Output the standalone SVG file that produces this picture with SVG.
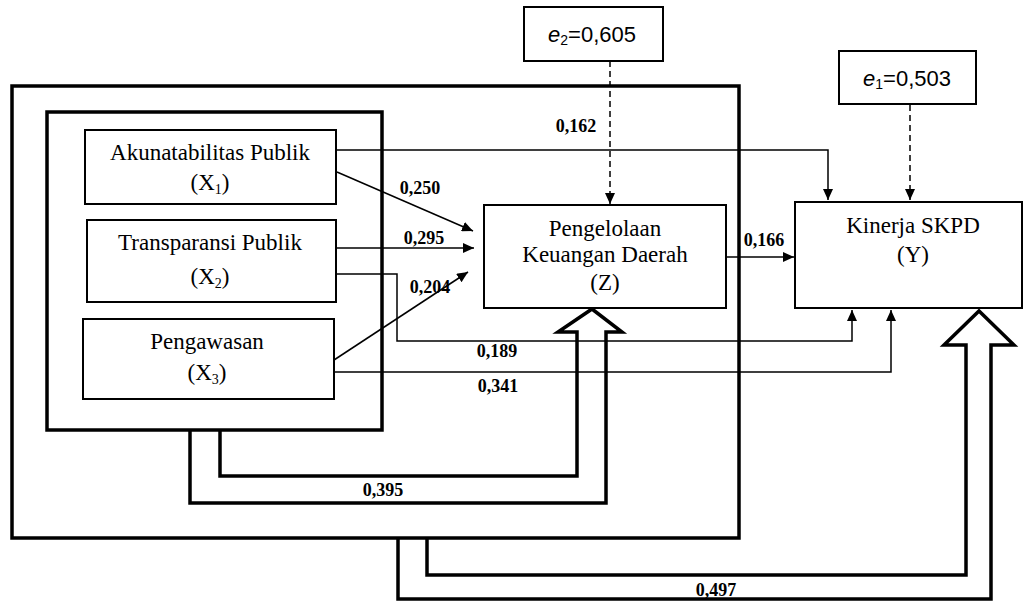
<svg xmlns="http://www.w3.org/2000/svg" width="1024" height="602" viewBox="0 0 1024 602">
<defs>
<marker id="ah" markerWidth="11" markerHeight="10" refX="11" refY="5" orient="auto" markerUnits="userSpaceOnUse">
<path d="M0,0 L11,5 L0,10 z" fill="#000"/>
</marker>
</defs>
<style>
.bx{fill:#fff;stroke:#000;stroke-width:2}
.frame{fill:none;stroke:#000;stroke-width:3.5}
.ln{fill:none;stroke:#000;stroke-width:1.5}
.dash{fill:none;stroke:#000;stroke-width:1.5;stroke-dasharray:6,4}
.big{fill:none;stroke:#000;stroke-width:3.5;stroke-linejoin:miter}
.t{font-family:"Liberation Serif","Times New Roman",serif;font-size:23px;fill:#000;text-anchor:middle}
.sub{font-size:14px}
.n{font-family:"Liberation Serif","Times New Roman",serif;font-size:18px;font-weight:bold;fill:#000;text-anchor:middle}
.e{font-family:"Liberation Sans",Arial,sans-serif;font-size:22px;fill:#000;text-anchor:middle}
</style>
<rect width="1024" height="602" fill="#fff"/>

<g id="outer-frame"><rect x="12" y="86" width="727" height="452" class="frame"/></g>
<g id="inner-frame"><rect x="47" y="112" width="335" height="318" class="frame"/></g>

<g id="connectors">
<!-- X1 to Y -->
<path class="ln" d="M336,150 H828 V200" marker-end="url(#ah)"/>
<!-- X1 to Z -->
<path class="ln" d="M337,172 L473,231" marker-end="url(#ah)"/>
<!-- X2 to Z -->
<path class="ln" d="M336,248 H474" marker-end="url(#ah)"/>
<!-- X3 to Z -->
<path class="ln" d="M334,360 L468,272" marker-end="url(#ah)"/>
<!-- X2 to Y -->
<path class="ln" d="M336,274 H397 V341 H852 V310" marker-end="url(#ah)"/>
<!-- X3 to Y -->
<path class="ln" d="M334,372 H891 V310" marker-end="url(#ah)"/>
<!-- Z to Y -->
<path class="ln" d="M726,257 H794" marker-end="url(#ah)"/>
<!-- e2 to Z -->
<path class="dash" d="M610,61 V204" marker-end="url(#ah)"/>
<!-- e1 to Y -->
<path class="dash" d="M910,105 V200" marker-end="url(#ah)"/>
<!-- big arrow X to Z -->
<path class="big" d="M190,430 V503 H606 V332 H622 L592,309 L558,332 H577 V476 H220 V430"/>
<!-- big arrow X to Y -->
<path class="big" d="M398,538 V599 H991 V345 H1014 L979,311 L944,345 H966 V575 H427 V538"/>
</g>

<g id="x1">
<rect x="85" y="130" width="251" height="74" class="bx"/>
<text class="t" x="210" y="160">Akunatabilitas Publik</text>
<text class="t" x="210" y="190">(X<tspan class="sub" dy="4">1</tspan><tspan dy="-4">)</tspan></text>
</g>
<g id="x2">
<rect x="87" y="220" width="249" height="82" class="bx"/>
<text class="t" x="210" y="250">Transparansi Publik</text>
<text class="t" x="210" y="284">(X<tspan class="sub" dy="4">2</tspan><tspan dy="-4">)</tspan></text>
</g>
<g id="x3">
<rect x="83" y="319" width="251" height="80" class="bx"/>
<text class="t" x="207" y="349">Pengawasan</text>
<text class="t" x="207" y="380">(X<tspan class="sub" dy="4">3</tspan><tspan dy="-4">)</tspan></text>
</g>
<g id="z">
<rect x="484" y="205" width="242" height="103" class="bx"/>
<text class="t" x="605" y="236">Pengelolaan</text>
<text class="t" x="605" y="262">Keuangan Daerah</text>
<text class="t" x="605" y="290">(Z)</text>
</g>
<g id="y">
<rect x="795" y="202" width="227" height="106" class="bx"/>
<text class="t" x="913" y="233">Kinerja SKPD</text>
<text class="t" x="913" y="262">(Y)</text>
</g>
<g id="e2">
<rect x="524" y="7" width="139" height="54" class="bx"/>
<text class="e" x="592" y="42"><tspan font-style="italic">e</tspan><tspan font-size="14" dy="3">2</tspan><tspan dy="-3">=0,605</tspan></text>
</g>
<g id="e1">
<rect x="839" y="51" width="137" height="53" class="bx"/>
<text class="e" x="907" y="86"><tspan font-style="italic">e</tspan><tspan font-size="14" dy="3">1</tspan><tspan dy="-3">=0,503</tspan></text>
</g>

<g id="labels">
<text class="n" x="576" y="132">0,162</text>
<text class="n" x="420" y="194">0,250</text>
<text class="n" x="424" y="244">0,295</text>
<text class="n" x="430" y="293">0,204</text>
<text class="n" x="764" y="246">0,166</text>
<text class="n" x="497" y="357">0,189</text>
<text class="n" x="498" y="392">0,341</text>
<text class="n" x="383" y="496">0,395</text>
<text class="n" x="716" y="596">0,497</text>
</g>
</svg>
